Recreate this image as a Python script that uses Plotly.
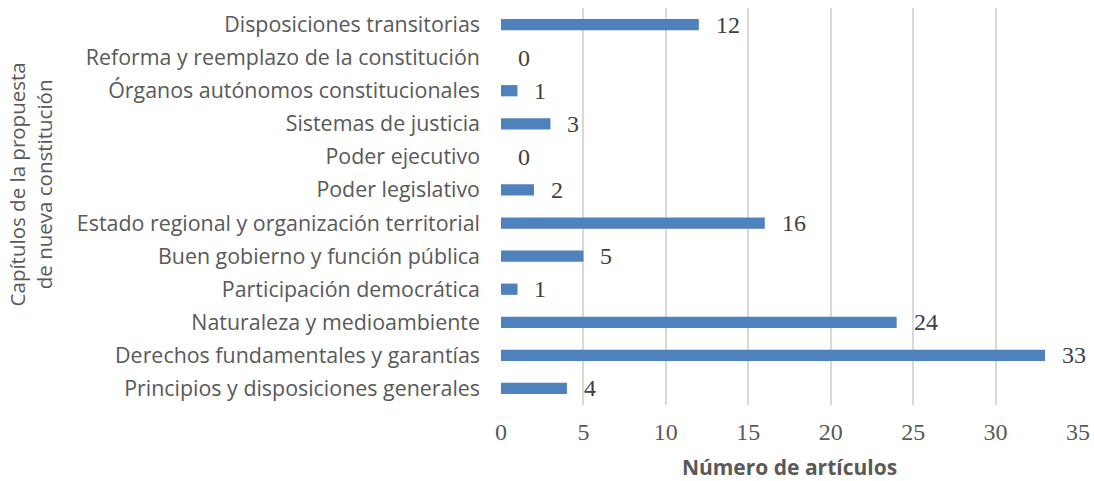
import plotly.graph_objects as go

categories = [
    "Principios y disposiciones generales",
    "Derechos fundamentales y garantías",
    "Naturaleza y medioambiente",
    "Participación democrática",
    "Buen gobierno y función pública",
    "Estado regional y organización territorial",
    "Poder legislativo",
    "Poder ejecutivo",
    "Sistemas de justicia",
    "Órganos autónomos constitucionales",
    "Reforma y reemplazo de la constitución",
    "Disposiciones transitorias",
]
values = [4, 33, 24, 1, 5, 16, 2, 0, 3, 1, 0, 12]
x_ticks = [0, 5, 10, 15, 20, 25, 30, 35]

BAR = "#4F81BD"
GREY = "#595959"
SERIF = "Liberation Serif, DejaVu Serif, serif"
SANS = "Open Sans, Noto Sans, sans-serif"

fig = go.Figure()
fig.add_trace(go.Bar(
    x=values, y=categories, orientation="h",
    marker=dict(color=BAR, line=dict(width=0)),
    width=0.34, hoverinfo="x+y",
))

for c, v in zip(categories, values):
    fig.add_annotation(
        x=v, y=c, xref="x", yref="y", text=str(v), showarrow=False,
        xanchor="left", yanchor="middle", xshift=15,
        font=dict(family=SERIF, size=24, color="#404040"),
    )

fig.add_annotation(
    text="Capítulos de la propuesta<br>de nueva constitución",
    xref="paper", yref="paper", x=-0.815, y=0.555,
    xanchor="center", yanchor="middle", textangle=-90, showarrow=False,
    font=dict(family=SANS, size=20.5, color=GREY),
)

fig.update_layout(
    width=1094, height=481,
    margin=dict(l=501, r=16, t=8, b=76),
    paper_bgcolor="white", plot_bgcolor="white",
    showlegend=False,
    xaxis=dict(
        range=[0, 35], tickvals=x_ticks, showgrid=True, gridcolor="#D9D9D9",
        gridwidth=1.5, zeroline=False, showline=False,
        tickfont=dict(family=SERIF, size=24, color=GREY),
        ticklabelstandoff=10,
        title=dict(text="<b>Número de artículos</b>", standoff=16,
                   font=dict(family=SANS, size=21, color=GREY)),
        automargin=False,
    ),
    yaxis=dict(
        categoryorder="array", categoryarray=categories,
        range=[-0.5, 11.5], showgrid=False, zeroline=False, showline=False,
        tickfont=dict(family=SANS, size=21.4, color=GREY),
        ticklabelstandoff=20, automargin=False,
    ),
)

fig.write_html("out.html", config={"displayModeBar": False},
               post_script="document.body.style.margin='0';")
